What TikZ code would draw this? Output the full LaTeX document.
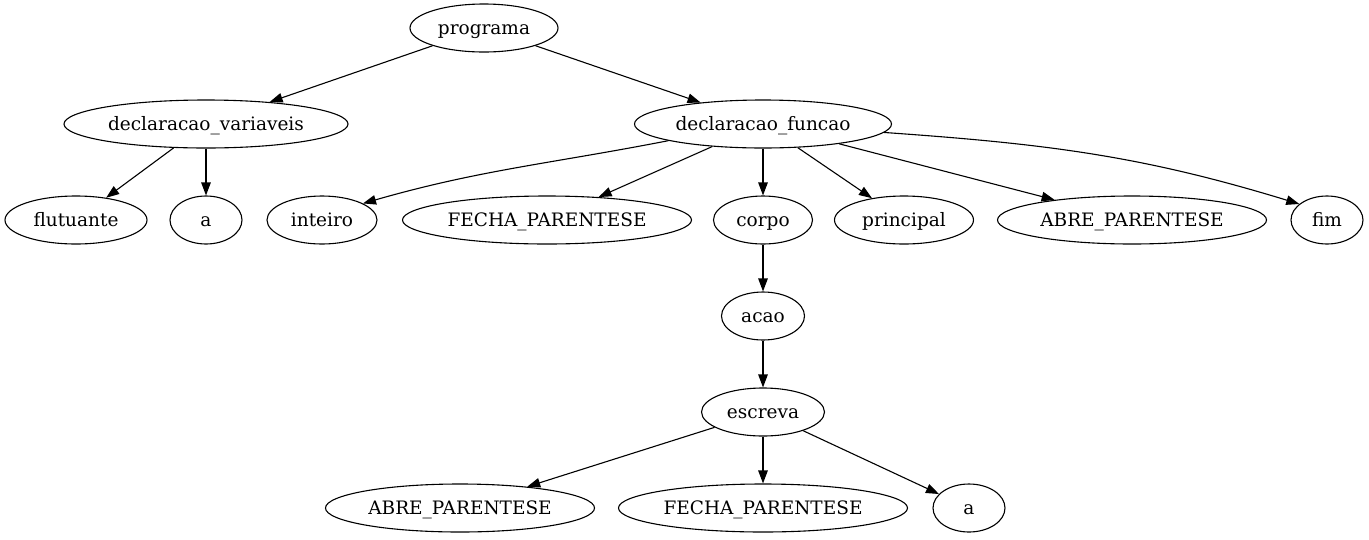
\documentclass[tikz,border=0pt]{standalone}
\usepackage{fontspec}
\setmainfont{DejaVu Serif}
\usetikzlibrary{shapes.geometric,arrows.meta}
\begin{document}
\begin{tikzpicture}[x=1pt,y=-1pt,
  nd/.style={draw,ellipse,line width=1.1pt,inner sep=0pt,minimum height=48pt,text height=15pt,text depth=3pt,font=\fontsize{18.5}{22}\selectfont},
  ed/.style={line width=1.1pt,-{Triangle[length=13pt,width=9.5pt]}}]
\useasboundingbox (0,0) rectangle (1369,539);
\node[nd,minimum width=148pt] (prog) at (484,28) {programa};
\node[nd,minimum width=284pt] (dv) at (206,124) {declaracao\_variaveis};
\node[nd,minimum width=257pt] (df) at (763,124) {declaracao\_funcao};
\node[nd,minimum width=142pt] (flu) at (76,220) {flutuante};
\node[nd,minimum width=72pt] (a1) at (206,220) {a};
\node[nd,minimum width=110pt] (int) at (322,220) {inteiro};
\node[nd,minimum width=289pt] (fp1) at (547,220) {FECHA\_PARENTESE};
\node[nd,minimum width=99pt] (corpo) at (763,220) {corpo};
\node[nd,minimum width=139pt] (princ) at (904,220) {principal};
\node[nd,minimum width=269pt] (ap1) at (1132,220) {ABRE\_PARENTESE};
\node[nd,minimum width=72pt] (fim) at (1327,220) {fim};
\node[nd,minimum width=83pt] (acao) at (763,316) {acao};
\node[nd,minimum width=123pt] (esc) at (763,412) {escreva};
\node[nd,minimum width=269pt] (ap2) at (460,508) {ABRE\_PARENTESE};
\node[nd,minimum width=289pt] (fp2) at (763,508) {FECHA\_PARENTESE};
\node[nd,minimum width=72pt] (a2) at (969,508) {a};
\draw[ed] (prog) -- (dv);
\draw[ed] (prog) -- (df);
\draw[ed] (dv) -- (flu);
\draw[ed] (dv) -- (a1);
\draw[ed] (df.190) to[out=191,in=16] (int.22);
\draw[ed] (df) -- (fp1);
\draw[ed] (df) -- (corpo);
\draw[ed] (df) -- (princ);
\draw[ed] (df) -- (ap1);
\draw[ed] (df.-4) to[out=-4,in=163] (fim.150);
\draw[ed] (corpo) -- (acao);
\draw[ed] (acao) -- (esc);
\draw[ed] (esc) -- (ap2);
\draw[ed] (esc) -- (fp2);
\draw[ed] (esc) -- (a2);
\end{tikzpicture}
\end{document}
